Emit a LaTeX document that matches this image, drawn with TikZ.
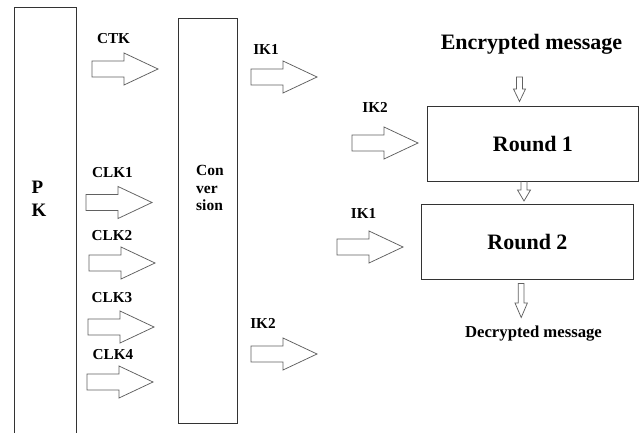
\documentclass[tikz,border=0pt]{standalone}
\usepackage{fontspec}
\setmainfont{Liberation Serif}
\begin{document}
\begin{tikzpicture}[x=1pt,y=-1pt,
  box/.style={draw=black!80, line width=0.9pt, inner sep=0pt},
  bar/.style={draw=black!62, line width=0.75pt, line join=miter},
  lbl/.style={font=\bfseries\fontsize{15.2}{18}\selectfont, inner sep=0pt, anchor=base},
  bigarrow/.pic={\draw[bar] (0,-8) -- (32,-8) -- (32,-16) -- (66,0) -- (32,16) -- (32,8) -- (0,8) -- cycle;}
]
\useasboundingbox (0,0) rectangle (639,433);
\clip (0,0) rectangle (639,433);
\fill[white] (0,0) rectangle (639,433);

% PK box (runs off the bottom)
\node[box, minimum width=62pt, minimum height=440pt, anchor=north west] (pk) at (13.5,7.5) {};
\node[font=\bfseries\fontsize{19}{22}\selectfont, inner sep=0pt, anchor=base west] (pkp) at (31.5,193) {P};
\node[font=\bfseries\fontsize{19}{22}\selectfont, inner sep=0pt, anchor=base west] (pkk) at (31.5,216.5) {K};

% Conversion box
\node[box, minimum width=59pt, minimum height=405pt, anchor=north west] (conv) at (178.3,18.3) {};
\node[font=\bfseries\fontsize{15.5}{18}\selectfont, inner sep=0pt, anchor=base west] (cv1) at (196,175) {Con};
\node[font=\bfseries\fontsize{15.5}{18}\selectfont, inner sep=0pt, anchor=base west] (cv2) at (196,193) {ver};
\node[font=\bfseries\fontsize{15.5}{18}\selectfont, inner sep=0pt, anchor=base west] (cv3) at (196,210.5) {sion};

% Round boxes
\node[box, minimum width=211pt, minimum height=75pt, anchor=north west,
      font=\bfseries\fontsize{22}{24}\selectfont] (r1) at (427,106) {Round 1};
\node[box, minimum width=212pt, minimum height=75pt, anchor=north west,
      font=\bfseries\fontsize{22}{24}\selectfont] (r2) at (421,204.3) {Round 2};

\node[font=\bfseries\fontsize{22}{24}\selectfont, inner sep=0pt, anchor=base] (enc) at (531.5,49.5) {Encrypted message};
\node[font=\bfseries\fontsize{16.7}{19}\selectfont, inner sep=0pt, anchor=base] (dec) at (533.5,337) {Decrypted message};

% key labels
\node[lbl] (lctk)  at (113.5,43.5) {CTK};
\node[lbl] (lclk1) at (112.5,177.7) {CLK1};
\node[lbl] (lclk2) at (112,240) {CLK2};
\node[lbl] (lclk3) at (112,302.7) {CLK3};
\node[lbl] (lclk4) at (113,359.3) {CLK4};
\node[lbl] (lik1a) at (266,54.3) {IK1};
\node[lbl] (lik2a) at (375,112.7) {IK2};
\node[lbl] (lik1b) at (363.5,218.3) {IK1};
\node[lbl] (lik2b) at (263,328.3) {IK2};

% block arrows
\pic at (92,69) {bigarrow};
\pic at (86,202.5) {bigarrow};
\pic at (89,263) {bigarrow};
\pic at (88,327) {bigarrow};
\pic at (87,382) {bigarrow};
\pic at (251,77) {bigarrow};
\pic at (352,143) {bigarrow};
\pic at (337,247) {bigarrow};
\pic at (251,354) {bigarrow};

% small down arrows
\draw[bar] (516.5,77) -- (516.5,89) -- (513.5,89) -- (519.5,101.5) -- (525.5,89) -- (522.5,89) -- (522.5,77) -- cycle;
\draw[bar] (521,181) -- (521,190) -- (517.5,190) -- (524,201) -- (530.5,190) -- (527,190) -- (527,181);
\draw[bar] (518.3,283.5) -- (518.3,303) -- (515,303) -- (521.2,317.5) -- (527.4,303) -- (524,303) -- (524,283.5) -- cycle;
\end{tikzpicture}
\end{document}
